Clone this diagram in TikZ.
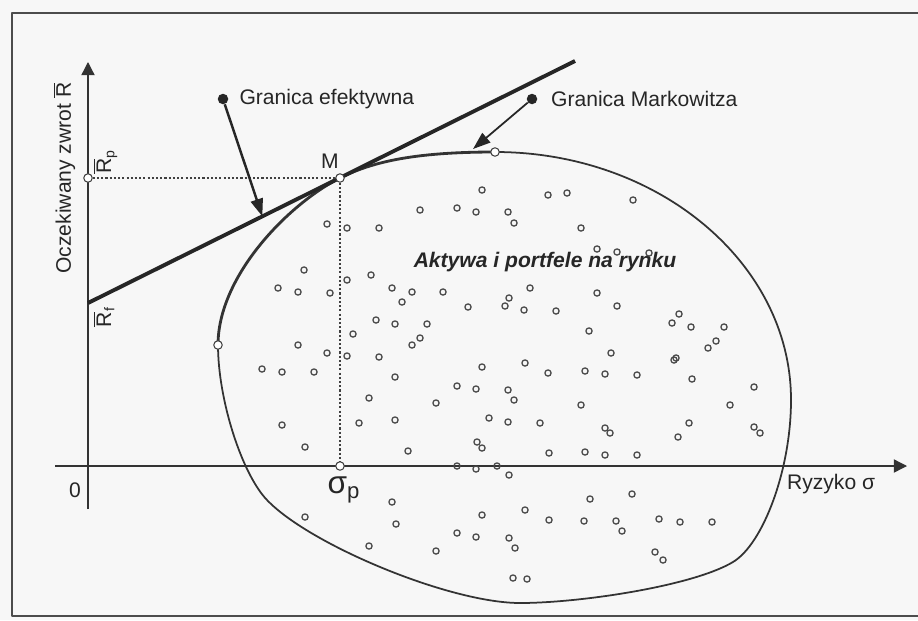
\documentclass[tikz,border=0pt]{standalone}
\usepackage{fontspec}
\setmainfont{Liberation Sans}
\usetikzlibrary{arrows.meta,positioning,calc}
\newcommand{\avgR}[1]{$\overline{\mbox{R}}$\textsubscript{#1}}

\begin{document}
\begin{tikzpicture}[x=0.2mm, y=-0.2mm, line join=round,
  lbl/.style={text=black!85, font=\fontsize{12}{14}\selectfont, inner sep=1pt},
  axisline/.style={draw=black!80, line width=0.75pt, -{Triangle[length=7.5pt,width=7.5pt]}},
  guide/.style={draw=black!75, line width=0.65pt, dash pattern=on 1.2pt off 1.2pt},
  opendot/.style={circle, draw=black!75, fill=white, line width=0.6pt, inner sep=0pt, minimum size=1.7mm},
  blob/.style={circle, fill=black!85, inner sep=0pt, minimum size=2.1mm},
  asset/.style={draw=black!72, line width=0.75pt},
  pointer/.style={draw=black!85, -{Triangle[length=10pt,width=7pt]}}]
  \fill[black!3] (0,0) rectangle (918,620);
  \useasboundingbox (0,0) rectangle (918,620);
  \draw[black!70, line width=0.75pt] (918,13) -- (12,13) -- (12,616) -- (918,616);

  % axes
  \coordinate (ybot) at (88,509);
  \coordinate (ytop) at (88,62);
  \coordinate (xleft) at (55,466);
  \coordinate (xright) at (907,466);
  \draw[axisline] (ybot) -- (ytop);
  \draw[axisline] (xleft) -- (xright);

  % frontier
  \coordinate (fl) at (218,345);
  \coordinate (ft) at (495,152);
  \coordinate (Mc) at (340,178);
  \draw[black!80, line width=1pt] (ft) .. controls (658,152) and (791,263) .. (791,400)
    .. controls (791,470) and (763,544) .. (733,562)
    .. controls (693,586) and (580,603) .. (520,603)
    .. controls (450,603) and (310,545) .. (267,500)
    .. controls (242,474) and (218,400) .. (fl);
  \draw[black!80, line width=1.6pt] (fl) .. controls (218,275) and (290,203) .. (Mc)
    .. controls (370,163) and (410,152) .. (ft);

  % capital market line
  \coordinate (Rf) at (88,303);
  \coordinate (cml) at (575,61);
  \draw[black!85, line width=2.2pt] (Rf) -- (cml);

  \node[opendot] (M) at (Mc) {};
  \node[opendot] (Rp) at (88,178) {};
  \node[opendot] (sp) at (340,466) {};
  \node[opendot] (L) at (fl) {};
  \node[opendot] (T) at (ft) {};
  \draw[guide] (Rp) -- (M) -- (sp);

  \node[lbl, font=\fontsize{12}{14}\selectfont\bfseries\itshape] (mkt) at (545,262) {Aktywa i portfele na rynku};

  \foreach \x/\y in {420/210, 457/208, 482/190, 548/195, 567/193, 633/200, 476/212, 508/212, 514/223, 581/228,
    327/224, 347/228, 379/228, 597/249, 617/252, 649/253,
    304/270, 371/275, 347/280, 278/288, 298/292, 330/293, 392/288, 412/292, 402/302, 443/292, 530/288,
    597/293, 509/298, 505/306, 468/307, 524/310, 556/311, 617/306, 679/314, 376/320,
    395/324, 427/324, 353/334, 298/345, 327/353, 347/356, 379/357, 420/338, 412/345, 589/331, 611/353,
    672/323, 691/327, 724/327, 716/341, 708/348, 676/358, 674/360,
    262/369, 282/372, 314/372, 395/377, 482/367, 525/363, 548/373, 585/371, 605/374, 637/375, 692/379, 754/387,
    457/386, 476/389, 508/390, 514/400, 369/398, 436/403, 581/405, 730/405,
    282/425, 359/423, 395/420, 489/418, 508/422, 540/423, 605/428, 610/433, 689/423, 678/437, 754/427, 760/433,
    305/447, 408/451, 477/442, 482/448, 549/453, 585/452, 605/455, 637/455,
    457/466, 476/469, 497/466, 509/475,
    392/502, 305/517, 396/524, 369/546, 436/551, 457/533, 476/537, 482/515, 525/510, 509/538, 515/548,
    549/520, 584/521, 616/521, 622/531, 590/499, 632/494, 659/519, 680/522, 712/522, 655/552, 663/560,
    513/578, 527/579}
    \draw[asset] (\x,\y) circle[radius=0.62mm];

  % labels
  \node[lbl, rotate=90] (ylab) at (64,178) {Oczekiwany zwrot $\overline{\mbox{R}}$};
  \node[lbl, rotate=90, anchor=north west] (Rplab) at (91,176) {\avgR{p}};
  \node[lbl, rotate=90, anchor=north east] (Rflab) at (91,305) {\avgR{f}};
  \node[lbl] (zero) at (75,490) {0};
  \node[lbl, anchor=west] (xlab) at (785,484) {Ryzyko σ};
  \node[lbl, font=\fontsize{18}{20}\selectfont] (splab) at (344,490) {σ\textsubscript{p}};
  \node[lbl] (Mlab) at (330,161) {M};

  \node[blob] (dotE) at (223,99) {};
  \node[lbl, right=5pt of dotE] (effE) {Granica efektywna};
  \node[blob] (dotM) at (532,99) {};
  \node[lbl, right=6.5pt of dotM] (effM) {Granica Markowitza};
  \coordinate (tipE) at ($(Rf)!0.358!(cml)$);
  \coordinate (tipM) at (473,149);
  \draw[pointer, line width=1.4pt] (dotE) -- (tipE);
  \draw[pointer, line width=1pt] (dotM) -- (tipM);
\end{tikzpicture}
\end{document}
